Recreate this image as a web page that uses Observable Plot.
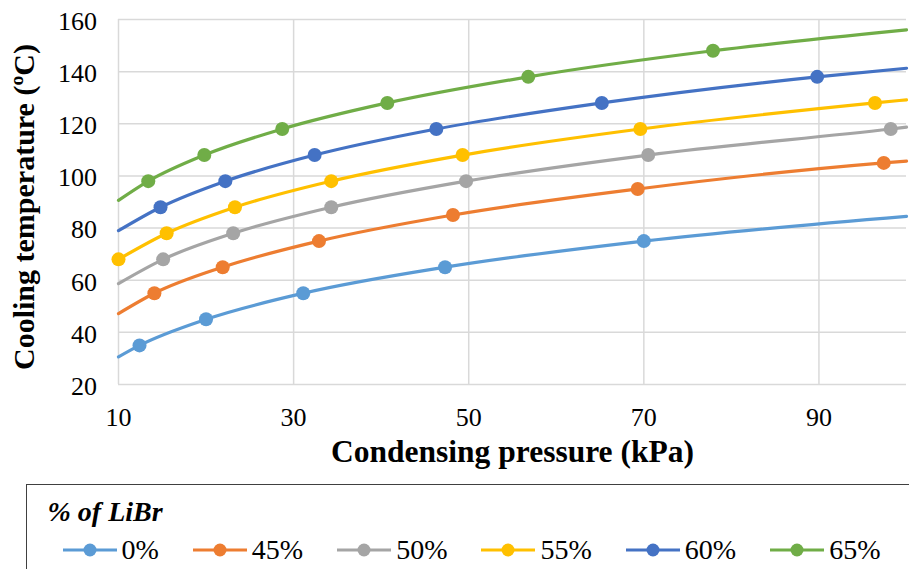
<!DOCTYPE html>
<html>
<head>
<meta charset="utf-8">
<script src="https://cdn.jsdelivr.net/npm/d3@7"></script>
<script src="https://cdn.jsdelivr.net/npm/@observablehq/plot@0.6"></script>
<style>
  html, body { margin: 0; padding: 0; background: #fff; }
  body { width: 909px; height: 569px; overflow: hidden; position: relative;
         font-family: "Liberation Serif", "Times New Roman", serif; }
  #chart svg { display: block; }
  #legend { position: absolute; left: 26px; top: 484px; width: 1000px; height: 200px;
            border: 1.5px solid #404040; box-sizing: border-box; }
  #legend .ltitle { position: absolute; left: 20.5px; top: 12.8px; font-size: 28px; line-height: 28px;
                    font-family: "Liberation Serif", serif;
                    font-weight: bold; font-style: italic; color: #000; white-space: nowrap; }
  #legend .items { position: absolute; left: 35.5px; top: 50.5px; display: flex; gap: 34px; align-items: center; }
  #legend .item { display: flex; align-items: center; }
  #legend .item span { font-family: "Liberation Serif", serif; font-size: 28px; line-height: 28px;
                       margin-left: 5px; color: #000; white-space: nowrap; }
</style>
</head>
<body>
<div id="chart"></div>
<div id="legend"></div>
<script>
// ---- Data ----
const series = ["0%", "45%", "50%", "55%", "60%", "65%"];
const colors = ["#5B9BD5", "#ED7D31", "#A5A5A5", "#FFC000", "#4472C4", "#70AD47"];

// Marker points: condensing pressure (kPa) and cooling temperature (ºC)
const pressure0  = [12.4, 20.0, 31.1, 47.3, 70.0];
const temp0      = [35, 45, 55, 65, 75];
const pressure45 = [14.1, 21.9, 32.9, 48.2, 69.3, 97.4];
const temp45     = [55, 65, 75, 85, 95, 105];
const pressure50 = [15.1, 23.1, 34.3, 49.7, 70.5, 98.2];
const temp50     = [68, 78, 88, 98, 108, 118];
const pressure55 = [10.0, 15.5, 23.3, 34.3, 49.3, 69.6, 96.4];
const temp55     = [68, 78, 88, 98, 108, 118, 128];
const pressure60 = [14.8, 22.2, 32.4, 46.3, 65.2, 89.8];
const temp60     = [88, 98, 108, 118, 128, 138];
const pressure65 = [13.4, 19.8, 28.7, 40.7, 56.8, 77.9];
const temp65     = [98, 108, 118, 128, 138, 148];

// Where each smooth curve starts (10 kPa) and ends (100 kPa)
const curveStartP = [10, 10, 10, 10, 10, 10];
const curveStartT = [30.6, 47.2, 58.7, 68, 79.0, 90.6];
const curveEndP   = [100, 100, 100, 100, 100, 100];
const curveEndT   = [84.5, 105.7, 118.7, 129.2, 141.3, 156.0];

const xTicks = [10, 30, 50, 70, 90];
const yTicks = [20, 40, 60, 80, 100, 120, 140, 160];
const xTitle = "Condensing pressure (kPa)";
const yTitle = "Cooling temperature (ºC)";
const legendTitle = "% of LiBr";

// ---- Build tables ----
const pressures = [pressure0, pressure45, pressure50, pressure55, pressure60, pressure65];
const temps = [temp0, temp45, temp50, temp55, temp60, temp65];

const markers = [];
const curves = [];
series.forEach((s, i) => {
  const pts = pressures[i].map((p, j) => ({series: s, p, t: temps[i][j]}));
  pts.forEach(d => markers.push(d));
  const line = [];
  if (curveStartP[i] < pts[0].p) line.push({series: s, p: curveStartP[i], t: curveStartT[i]});
  pts.forEach(d => line.push(d));
  if (curveEndP[i] > pts[pts.length - 1].p) line.push({series: s, p: curveEndP[i], t: curveEndT[i]});
  line.forEach(d => curves.push(d));
});

const serif = "'Liberation Serif', 'Times New Roman', serif";
const gridStyle = {stroke: "#d9d9d9", strokeOpacity: 1, strokeWidth: 1.5};

const chart = Plot.plot({
  width: 909,
  height: 470,
  marginLeft: 118,
  marginRight: 3,
  marginTop: 19,
  marginBottom: 86,
  style: {fontFamily: serif, color: "#000", background: "#fff", overflow: "visible"},
  x: {domain: [10, 100]},
  y: {domain: [20, 160]},
  color: {domain: series, range: colors},
  marks: [
    Plot.gridY(yTicks, gridStyle),
    Plot.gridX(xTicks, gridStyle),
    Plot.axisY(yTicks, {tickSize: 0, tickPadding: 21.5, fontSize: 26, fontFamily: serif, dy: 2, label: null, fill: "#000"}),
    Plot.axisX(xTicks, {tickSize: 0, tickPadding: 23.2, fontSize: 26, fontFamily: serif, label: null, fill: "#000"}),
    Plot.line(curves, {x: "p", y: "t", z: "series", stroke: "series", strokeWidth: 3.2, curve: "monotone-x"}),
    Plot.dot(markers, {x: "p", y: "t", fill: "series", r: 7}),
    Plot.text([xTitle], {frameAnchor: "bottom", lineAnchor: "bottom", dy: 77.4, fontSize: 31.5, fontFamily: serif, fontWeight: "bold", fill: "#000"}),
    Plot.text([yTitle], {frameAnchor: "left", textAnchor: "middle", lineAnchor: "bottom", rotate: -90, dx: -85, dy: 5, fontSize: 30, fontFamily: serif, fontWeight: "bold", fill: "#000"})
  ]
});
document.getElementById("chart").appendChild(chart);

// ---- Legend ----
const legend = document.getElementById("legend");
const lt = document.createElement("div");
lt.className = "ltitle";
lt.textContent = legendTitle;
legend.appendChild(lt);
const items = document.createElement("div");
items.className = "items";
series.forEach((s, i) => {
  const it = document.createElement("div");
  it.className = "item";
  it.innerHTML = `<svg width="54" height="16"><line x1="0" x2="54" y1="8" y2="8" stroke="${colors[i]}" stroke-width="3.2"/><circle cx="27" cy="8" r="6.5" fill="${colors[i]}"/></svg><span>${s}</span>`;
  items.appendChild(it);
});
legend.appendChild(items);
</script>
</body>
</html>
